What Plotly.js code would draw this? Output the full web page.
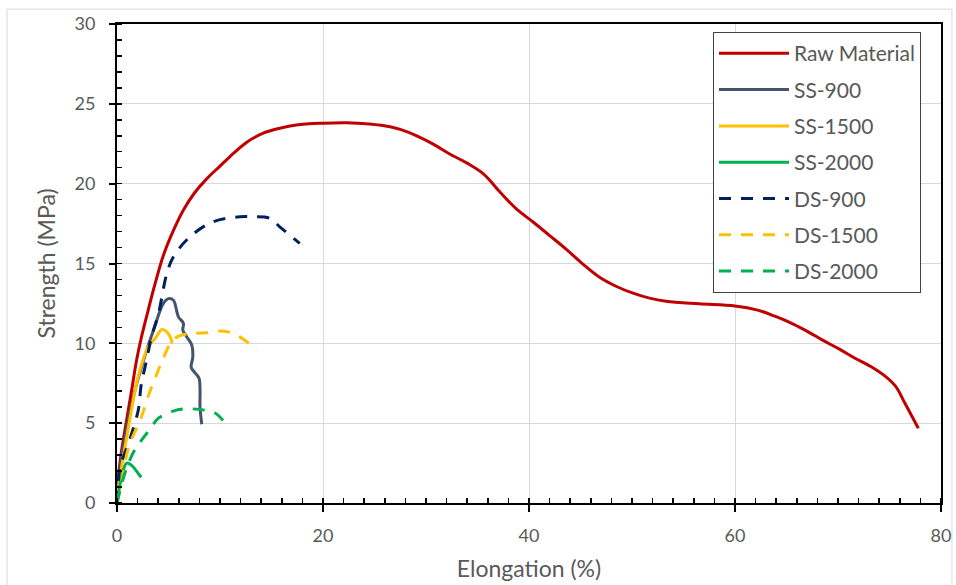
<!DOCTYPE html>
<html>
<head>
<meta charset="utf-8">
<script src="https://cdn.plot.ly/plotly-3.0.1.min.js"></script>
<style>
html,body{margin:0;padding:0;background:#fff;}
#chart{width:956px;height:585px;}
</style>
</head>
<body>
<div id="chart"></div>
<script>
// Series data (Elongation %, Strength MPa)
const seriesNames = ["Raw Material","SS-900","SS-1500","SS-2000","DS-900","DS-1500","DS-2000"];

const rawX = [0,0.13,0.45,0.93,1.42,1.9,2.38,3.03,3.6,4.5,5.5,6.45,7.5,8.7,10.0,10.97,12.6,14.2,15.8,17.4,19.95,22.3,24.5,26.5,27.5,29.1,30.7,32.3,33.95,35.6,37.2,38.8,40.4,42.0,43.6,45.2,46.85,48.5,50.1,51.7,53.3,56.5,60,62.2,63.8,65.2,66.8,68.5,70.1,71.7,73.3,74.6,75.6,76.5,77.8];
const rawY = [0,1.63,3.3,5.18,7.06,8.94,10.4,12.08,13.5,15.5,17.1,18.35,19.4,20.3,21.1,21.7,22.6,23.16,23.47,23.68,23.79,23.82,23.74,23.57,23.4,23.0,22.48,21.86,21.3,20.6,19.46,18.4,17.6,16.75,15.9,14.98,14.14,13.56,13.14,12.83,12.64,12.48,12.34,12.08,11.72,11.35,10.83,10.2,9.65,9.05,8.5,7.93,7.3,6.25,4.68];

const ss900X = [0,0.45,1.1,1.74,2.38,3.0,3.55,4.5,5.0,5.48,5.74,5.96,6.45,6.39,6.78,7.26,7.36,7.2,7.58,7.97,8.06,8.06,8.23];
const ss900Y = [1.0,2.9,5.2,7.06,8.5,9.8,10.83,12.5,12.8,12.7,12.19,11.66,11.25,10.83,10.4,9.9,9.15,8.49,8.15,7.8,7.07,6.02,4.93];

const ss1500X = [0,0.45,0.94,1.4,1.9,2.4,3.03,3.7,4.36,4.84,5.23,5.32];
const ss1500Y = [0.4,2.26,4.1,5.8,7.5,8.7,9.8,10.3,10.87,10.72,10.3,10.0];

const ss2000X = [0,0.45,0.94,1.42,2.2,2.38];
const ss2000Y = [0,1.63,2.5,2.36,1.73,1.63];

const ds900X = [0,0.29,1.26,2.06,2.35,2.87,3.35,4.03,4.84,5.48,7.1,9.35,11.94,13.22,14.84,15.8,17.74];
const ds900Y = [0,2.15,4.03,5.8,7.4,8.94,10.4,11.87,14.38,15.42,16.68,17.62,17.93,17.93,17.83,17.3,16.26];

const ds1500X = [0,0.5,1.13,2.26,3.2,4.0,4.48,5.3,6.0,7.4,8.7,10.0,11.3,12.6,13.55];
const ds1500Y = [0,1.5,3.5,5.2,7.0,8.3,9.05,10.1,10.45,10.62,10.66,10.77,10.62,10.1,9.57];

const ds2000X = [0,0.5,1.0,1.7,2.4,3.35,4.0,5.45,6.7,8.06,9.35,9.9,10.65];
const ds2000Y = [0,1.3,2.3,3.3,3.95,4.76,5.3,5.75,5.9,5.85,5.7,5.45,4.87];

const xTicks = [0,20,40,60,80];
const yTicks = [0,5,10,15,20,25,30];

const colors = ["#C00000","#44546A","#FFC000","#00B050","#002060","#FFC000","#00B050"];
const dashes = ["solid","solid","solid","solid","12px,10px","12px,10px","12px,10px"];
const xs = [rawX,ss900X,ss1500X,ss2000X,ds900X,ds1500X,ds2000X];
const ys = [rawY,ss900Y,ss1500Y,ss2000Y,ds900Y,ds1500Y,ds2000Y];

const traces = seriesNames.map((n,i)=>({
  type:"scatter", mode:"lines", name:n, x:xs[i], y:ys[i],
  legendgroup:"g"+i,
  line:{color:colors[i], width:3, dash:dashes[i], shape:"spline", smoothing:1}
}));

const fontFam = "Lato, 'Open Sans', sans-serif";
const gray = "#595959";
const layout = {
  width:956, height:585,
  margin:{l:117, r:15, t:24, b:82},
  paper_bgcolor:"#fff", plot_bgcolor:"#fff",
  font:{family:fontFam, color:gray, size:18},
  showlegend:true,
  legend:{x:0.7233, y:0.983, xanchor:"left", yanchor:"top",
    bordercolor:"#404040", borderwidth:1, bgcolor:"#fff",
    font:{family:fontFam, size:21, color:gray}, tracegroupgap:6, itemwidth:70},
  xaxis:{range:[0,80], tickvals:xTicks, ticktext:xTicks.map(String),
    showline:true, linecolor:"#000", linewidth:2, mirror:true,
    ticks:"outside", ticklen:7, tickcolor:"#000", tickwidth:2,
    ticklabelstandoff:8,
    showgrid:true, gridcolor:"#D9D9D9", gridwidth:1, zeroline:false,
    minor:{dtick:2, ticks:"inside", ticklen:5, tickcolor:"#000", tickwidth:1.5, showgrid:false},
    tickfont:{size:18, color:gray, family:fontFam},
    title:{text:"Elongation (%)", font:{size:23, color:gray, family:fontFam}, standoff:16}},
  yaxis:{range:[0,30], tickvals:yTicks, ticktext:yTicks.map(String),
    showline:true, linecolor:"#000", linewidth:2, mirror:true,
    ticks:"outside", ticklen:6, tickcolor:"#000", tickwidth:2,
    ticklabelstandoff:10,
    showgrid:true, gridcolor:"#D9D9D9", gridwidth:1, zeroline:false,
    minor:{dtick:1, ticks:"inside", ticklen:5, tickcolor:"#000", tickwidth:1.5, showgrid:false},
    tickfont:{size:18, color:gray, family:fontFam},
    title:{text:"Strength (MPa)", font:{size:23, color:gray, family:fontFam}, standoff:12}},
  shapes:[{type:"rect", xref:"paper", yref:"paper", x0:-0.1335, x1:1.0133, y0:-0.18, y1:1.031,
    line:{color:"#D9D9D9", width:1}, layer:"below"}]
};

Plotly.newPlot("chart", traces, layout, {displayModeBar:false, staticPlot:true});
</script>
</body>
</html>
